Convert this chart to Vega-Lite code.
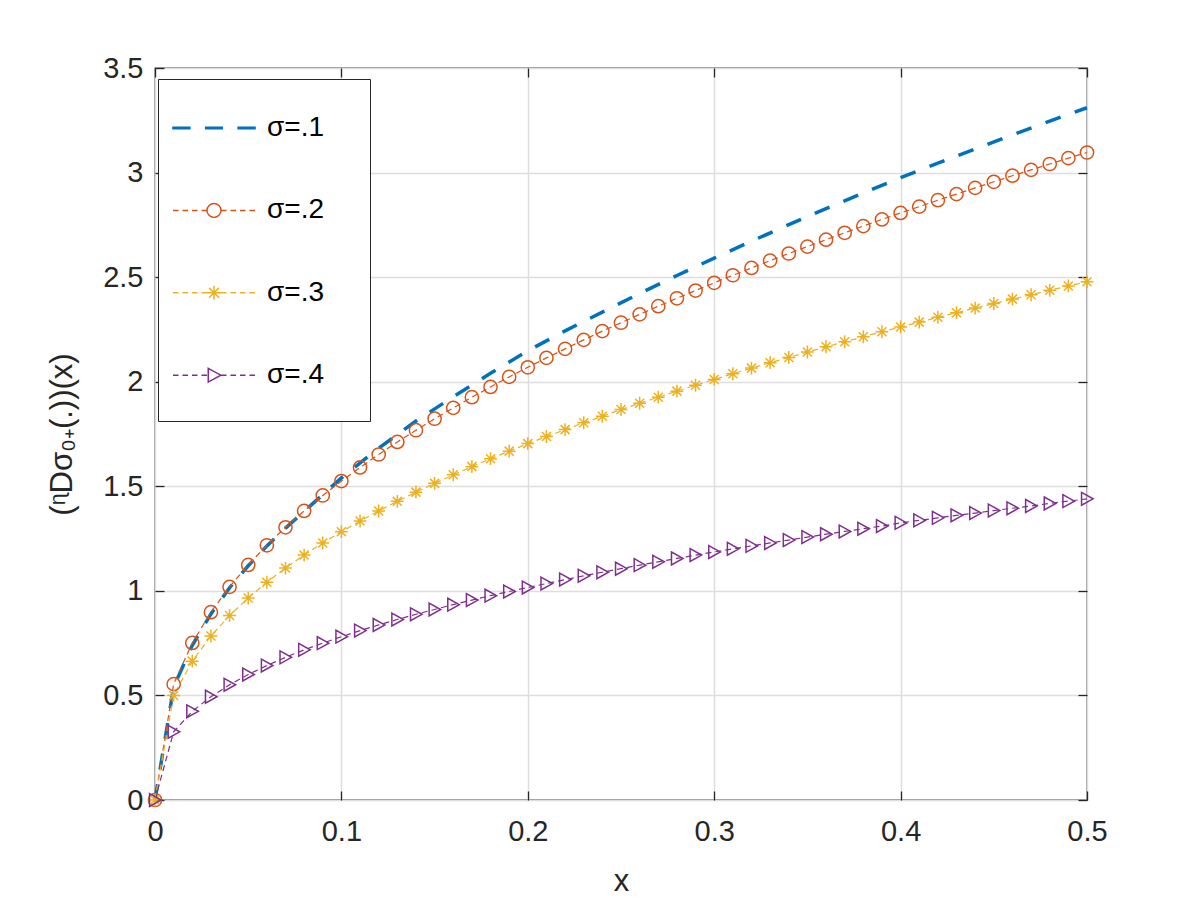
{
  "$schema": "https://vega.github.io/schema/vega-lite/v6.json",
  "width": 932,
  "height": 732,
  "autosize": {"type": "none"},
  "padding": {"left": 155, "top": 68, "right": 113, "bottom": 100},
  "background": "white",
  "config": {
    "font": "Liberation Sans",
    "view": {"stroke": "#262626", "strokeWidth": 1.3},
    "axis": {
      "labelFont": "Liberation Sans",
      "titleFont": "Liberation Sans",
      "labelColor": "#262626",
      "titleColor": "#262626",
      "tickColor": "#262626",
      "domain": false,
      "labelFlush": false,
      "labelFontSize": 29,
      "titleFontSize": 31,
      "titleFontWeight": "normal",
      "tickWidth": 1.3,
      "gridColor": "#dedede",
      "gridWidth": 1.5
    }
  },
  "datasets": {
    "d": [
      {"s": "σ=.1", "x": 0, "y": 0}, {"s": "σ=.1", "x": 0.01, "y": 0.54}, {"s": "σ=.1", "x": 0.02, "y": 0.74}, {"s": "σ=.1", "x": 0.03, "y": 0.89}, {"s": "σ=.1", "x": 0.04, "y": 1.015}, {"s": "σ=.1", "x": 0.05, "y": 1.12}, {"s": "σ=.1", "x": 0.06, "y": 1.215}, {"s": "σ=.1", "x": 0.07, "y": 1.3}, {"s": "σ=.1", "x": 0.08, "y": 1.38}, {"s": "σ=.1", "x": 0.09, "y": 1.46}, {"s": "σ=.1", "x": 0.1, "y": 1.54}, {"s": "σ=.1", "x": 0.12, "y": 1.682}, {"s": "σ=.1", "x": 0.14, "y": 1.812}, {"s": "σ=.1", "x": 0.16, "y": 1.928}, {"s": "σ=.1", "x": 0.18, "y": 2.04}, {"s": "σ=.1", "x": 0.2, "y": 2.148}, {"s": "σ=.1", "x": 0.22, "y": 2.243}, {"s": "σ=.1", "x": 0.24, "y": 2.333}, {"s": "σ=.1", "x": 0.26, "y": 2.422}, {"s": "σ=.1", "x": 0.28, "y": 2.508}, {"s": "σ=.1", "x": 0.3, "y": 2.591}, {"s": "σ=.1", "x": 0.32, "y": 2.672}, {"s": "σ=.1", "x": 0.34, "y": 2.751}, {"s": "σ=.1", "x": 0.36, "y": 2.828}, {"s": "σ=.1", "x": 0.38, "y": 2.902}, {"s": "σ=.1", "x": 0.4, "y": 2.976}, {"s": "σ=.1", "x": 0.42, "y": 3.045}, {"s": "σ=.1", "x": 0.44, "y": 3.113}, {"s": "σ=.1", "x": 0.46, "y": 3.18}, {"s": "σ=.1", "x": 0.48, "y": 3.246}, {"s": "σ=.1", "x": 0.5, "y": 3.31},
      {"s": "σ=.2", "x": 0, "y": 0}, {"s": "σ=.2", "x": 0.01, "y": 0.554}, {"s": "σ=.2", "x": 0.02, "y": 0.751}, {"s": "σ=.2", "x": 0.03, "y": 0.898}, {"s": "σ=.2", "x": 0.04, "y": 1.019}, {"s": "σ=.2", "x": 0.05, "y": 1.124}, {"s": "σ=.2", "x": 0.06, "y": 1.218}, {"s": "σ=.2", "x": 0.07, "y": 1.304}, {"s": "σ=.2", "x": 0.08, "y": 1.382}, {"s": "σ=.2", "x": 0.09, "y": 1.456}, {"s": "σ=.2", "x": 0.1, "y": 1.525}, {"s": "σ=.2", "x": 0.11, "y": 1.59}, {"s": "σ=.2", "x": 0.12, "y": 1.652}, {"s": "σ=.2", "x": 0.13, "y": 1.712}, {"s": "σ=.2", "x": 0.14, "y": 1.768}, {"s": "σ=.2", "x": 0.15, "y": 1.823}, {"s": "σ=.2", "x": 0.16, "y": 1.875}, {"s": "σ=.2", "x": 0.17, "y": 1.926}, {"s": "σ=.2", "x": 0.18, "y": 1.975}, {"s": "σ=.2", "x": 0.19, "y": 2.023}, {"s": "σ=.2", "x": 0.2, "y": 2.069}, {"s": "σ=.2", "x": 0.21, "y": 2.114}, {"s": "σ=.2", "x": 0.22, "y": 2.157}, {"s": "σ=.2", "x": 0.23, "y": 2.2}, {"s": "σ=.2", "x": 0.24, "y": 2.242}, {"s": "σ=.2", "x": 0.25, "y": 2.282}, {"s": "σ=.2", "x": 0.26, "y": 2.322}, {"s": "σ=.2", "x": 0.27, "y": 2.361}, {"s": "σ=.2", "x": 0.28, "y": 2.399}, {"s": "σ=.2", "x": 0.29, "y": 2.436}, {"s": "σ=.2", "x": 0.3, "y": 2.473}, {"s": "σ=.2", "x": 0.31, "y": 2.509}, {"s": "σ=.2", "x": 0.32, "y": 2.544}, {"s": "σ=.2", "x": 0.33, "y": 2.579}, {"s": "σ=.2", "x": 0.34, "y": 2.613}, {"s": "σ=.2", "x": 0.35, "y": 2.646}, {"s": "σ=.2", "x": 0.36, "y": 2.679}, {"s": "σ=.2", "x": 0.37, "y": 2.712}, {"s": "σ=.2", "x": 0.38, "y": 2.744}, {"s": "σ=.2", "x": 0.39, "y": 2.776}, {"s": "σ=.2", "x": 0.4, "y": 2.807}, {"s": "σ=.2", "x": 0.41, "y": 2.837}, {"s": "σ=.2", "x": 0.42, "y": 2.868}, {"s": "σ=.2", "x": 0.43, "y": 2.897}, {"s": "σ=.2", "x": 0.44, "y": 2.927}, {"s": "σ=.2", "x": 0.45, "y": 2.956}, {"s": "σ=.2", "x": 0.46, "y": 2.985}, {"s": "σ=.2", "x": 0.47, "y": 3.013}, {"s": "σ=.2", "x": 0.48, "y": 3.041}, {"s": "σ=.2", "x": 0.49, "y": 3.069}, {"s": "σ=.2", "x": 0.5, "y": 3.096},
      {"s": "σ=.3", "x": 0, "y": 0}, {"s": "σ=.3", "x": 0.01, "y": 0.5}, {"s": "σ=.3", "x": 0.02, "y": 0.664}, {"s": "σ=.3", "x": 0.03, "y": 0.784}, {"s": "σ=.3", "x": 0.04, "y": 0.882}, {"s": "σ=.3", "x": 0.05, "y": 0.966}, {"s": "σ=.3", "x": 0.06, "y": 1.041}, {"s": "σ=.3", "x": 0.07, "y": 1.109}, {"s": "σ=.3", "x": 0.08, "y": 1.171}, {"s": "σ=.3", "x": 0.09, "y": 1.229}, {"s": "σ=.3", "x": 0.1, "y": 1.283}, {"s": "σ=.3", "x": 0.11, "y": 1.334}, {"s": "σ=.3", "x": 0.12, "y": 1.382}, {"s": "σ=.3", "x": 0.13, "y": 1.428}, {"s": "σ=.3", "x": 0.14, "y": 1.472}, {"s": "σ=.3", "x": 0.15, "y": 1.514}, {"s": "σ=.3", "x": 0.16, "y": 1.555}, {"s": "σ=.3", "x": 0.17, "y": 1.594}, {"s": "σ=.3", "x": 0.18, "y": 1.632}, {"s": "σ=.3", "x": 0.19, "y": 1.668}, {"s": "σ=.3", "x": 0.2, "y": 1.704}, {"s": "σ=.3", "x": 0.21, "y": 1.738}, {"s": "σ=.3", "x": 0.22, "y": 1.771}, {"s": "σ=.3", "x": 0.23, "y": 1.804}, {"s": "σ=.3", "x": 0.24, "y": 1.835}, {"s": "σ=.3", "x": 0.25, "y": 1.867}, {"s": "σ=.3", "x": 0.26, "y": 1.897}, {"s": "σ=.3", "x": 0.27, "y": 1.926}, {"s": "σ=.3", "x": 0.28, "y": 1.955}, {"s": "σ=.3", "x": 0.29, "y": 1.983}, {"s": "σ=.3", "x": 0.3, "y": 2.011}, {"s": "σ=.3", "x": 0.31, "y": 2.038}, {"s": "σ=.3", "x": 0.32, "y": 2.065}, {"s": "σ=.3", "x": 0.33, "y": 2.091}, {"s": "σ=.3", "x": 0.34, "y": 2.116}, {"s": "σ=.3", "x": 0.35, "y": 2.142}, {"s": "σ=.3", "x": 0.36, "y": 2.167}, {"s": "σ=.3", "x": 0.37, "y": 2.191}, {"s": "σ=.3", "x": 0.38, "y": 2.215}, {"s": "σ=.3", "x": 0.39, "y": 2.239}, {"s": "σ=.3", "x": 0.4, "y": 2.262}, {"s": "σ=.3", "x": 0.41, "y": 2.285}, {"s": "σ=.3", "x": 0.42, "y": 2.308}, {"s": "σ=.3", "x": 0.43, "y": 2.33}, {"s": "σ=.3", "x": 0.44, "y": 2.352}, {"s": "σ=.3", "x": 0.45, "y": 2.374}, {"s": "σ=.3", "x": 0.46, "y": 2.395}, {"s": "σ=.3", "x": 0.47, "y": 2.416}, {"s": "σ=.3", "x": 0.48, "y": 2.437}, {"s": "σ=.3", "x": 0.49, "y": 2.458}, {"s": "σ=.3", "x": 0.5, "y": 2.478},
      {"s": "σ=.4", "x": 0, "y": 0}, {"s": "σ=.4", "x": 0.01, "y": 0.326}, {"s": "σ=.4", "x": 0.02, "y": 0.424}, {"s": "σ=.4", "x": 0.03, "y": 0.494}, {"s": "σ=.4", "x": 0.04, "y": 0.551}, {"s": "σ=.4", "x": 0.05, "y": 0.6}, {"s": "σ=.4", "x": 0.06, "y": 0.643}, {"s": "σ=.4", "x": 0.07, "y": 0.682}, {"s": "σ=.4", "x": 0.08, "y": 0.718}, {"s": "σ=.4", "x": 0.09, "y": 0.75}, {"s": "σ=.4", "x": 0.1, "y": 0.781}, {"s": "σ=.4", "x": 0.11, "y": 0.81}, {"s": "σ=.4", "x": 0.12, "y": 0.837}, {"s": "σ=.4", "x": 0.13, "y": 0.863}, {"s": "σ=.4", "x": 0.14, "y": 0.888}, {"s": "σ=.4", "x": 0.15, "y": 0.911}, {"s": "σ=.4", "x": 0.16, "y": 0.934}, {"s": "σ=.4", "x": 0.17, "y": 0.956}, {"s": "σ=.4", "x": 0.18, "y": 0.977}, {"s": "σ=.4", "x": 0.19, "y": 0.997}, {"s": "σ=.4", "x": 0.2, "y": 1.016}, {"s": "σ=.4", "x": 0.21, "y": 1.035}, {"s": "σ=.4", "x": 0.22, "y": 1.054}, {"s": "σ=.4", "x": 0.23, "y": 1.072}, {"s": "σ=.4", "x": 0.24, "y": 1.089}, {"s": "σ=.4", "x": 0.25, "y": 1.106}, {"s": "σ=.4", "x": 0.26, "y": 1.123}, {"s": "σ=.4", "x": 0.27, "y": 1.139}, {"s": "σ=.4", "x": 0.28, "y": 1.155}, {"s": "σ=.4", "x": 0.29, "y": 1.171}, {"s": "σ=.4", "x": 0.3, "y": 1.186}, {"s": "σ=.4", "x": 0.31, "y": 1.201}, {"s": "σ=.4", "x": 0.32, "y": 1.215}, {"s": "σ=.4", "x": 0.33, "y": 1.229}, {"s": "σ=.4", "x": 0.34, "y": 1.243}, {"s": "σ=.4", "x": 0.35, "y": 1.257}, {"s": "σ=.4", "x": 0.36, "y": 1.271}, {"s": "σ=.4", "x": 0.37, "y": 1.284}, {"s": "σ=.4", "x": 0.38, "y": 1.297}, {"s": "σ=.4", "x": 0.39, "y": 1.31}, {"s": "σ=.4", "x": 0.4, "y": 1.325}, {"s": "σ=.4", "x": 0.41, "y": 1.337}, {"s": "σ=.4", "x": 0.42, "y": 1.349}, {"s": "σ=.4", "x": 0.43, "y": 1.361}, {"s": "σ=.4", "x": 0.44, "y": 1.372}, {"s": "σ=.4", "x": 0.45, "y": 1.384}, {"s": "σ=.4", "x": 0.46, "y": 1.395}, {"s": "σ=.4", "x": 0.47, "y": 1.406}, {"s": "σ=.4", "x": 0.48, "y": 1.418}, {"s": "σ=.4", "x": 0.49, "y": 1.429}, {"s": "σ=.4", "x": 0.5, "y": 1.44}
    ]
  },
  "layer": [
    {
      "data": {"name": "d"},
      "transform": [{"filter": "datum.s === 'σ=.1'"}],
      "mark": {"type": "line", "color": "#0072BD", "strokeWidth": 3.5, "strokeDash": [16, 15], "strokeCap": "butt"},
      "encoding": {
        "x": {"field": "x", "type": "quantitative", "scale": {"domain": [0, 0.5], "nice": false, "zero": false},
          "axis": {"values": [0, 0.1, 0.2, 0.3, 0.4, 0.5], "format": "~g", "grid": true, "tickSize": -9, "labelPadding": 26, "title": "x", "titlePadding": 20}},
        "y": {"field": "y", "type": "quantitative", "scale": {"domain": [0, 3.5], "nice": false},
          "axis": {"values": [0, 0.5, 1, 1.5, 2, 2.5, 3, 3.5], "format": "~g", "grid": true, "tickSize": -9, "labelPadding": 21, "title": "(ᶯDσ₀₊(.))(x)", "titlePadding": 24}},
        "order": {"field": "x", "type": "quantitative"}
      }
    },
    {
      "data": {"name": "d"},
      "transform": [{"filter": "datum.s === 'σ=.2'"}],
      "mark": {"type": "line", "color": "#D95319", "strokeWidth": 1.2, "strokeDash": [6, 4], "strokeCap": "butt"},
      "encoding": {
        "x": {"field": "x", "type": "quantitative", "scale": {"domain": [0, 0.5], "nice": false, "zero": false}, "axis": null},
        "y": {"field": "y", "type": "quantitative", "scale": {"domain": [0, 3.5], "nice": false}, "axis": null},
        "order": {"field": "x", "type": "quantitative"}
      }
    },
    {
      "data": {"name": "d"},
      "transform": [{"filter": "datum.s === 'σ=.3'"}],
      "mark": {"type": "line", "color": "#EDB120", "strokeWidth": 1.2, "strokeDash": [6, 4], "strokeCap": "butt"},
      "encoding": {
        "x": {"field": "x", "type": "quantitative", "scale": {"domain": [0, 0.5], "nice": false, "zero": false}, "axis": null},
        "y": {"field": "y", "type": "quantitative", "scale": {"domain": [0, 3.5], "nice": false}, "axis": null},
        "order": {"field": "x", "type": "quantitative"}
      }
    },
    {
      "data": {"name": "d"},
      "transform": [{"filter": "datum.s === 'σ=.4'"}],
      "mark": {"type": "line", "color": "#7E2F8E", "strokeWidth": 1.2, "strokeDash": [6, 4], "strokeCap": "butt"},
      "encoding": {
        "x": {"field": "x", "type": "quantitative", "scale": {"domain": [0, 0.5], "nice": false, "zero": false}, "axis": null},
        "y": {"field": "y", "type": "quantitative", "scale": {"domain": [0, 3.5], "nice": false}, "axis": null},
        "order": {"field": "x", "type": "quantitative"}
      }
    },
    {
      "data": {"name": "d"},
      "transform": [{"filter": "datum.s === 'σ=.2'"}],
      "mark": {"type": "point", "shape": "circle", "size": 175, "filled": false, "color": "#D95319", "strokeWidth": 1.5, "opacity": 1},
      "encoding": {
        "x": {"field": "x", "type": "quantitative", "scale": {"domain": [0, 0.5], "nice": false, "zero": false}, "axis": null},
        "y": {"field": "y", "type": "quantitative", "scale": {"domain": [0, 3.5], "nice": false}, "axis": null}
      }
    },
    {
      "data": {"name": "d"},
      "transform": [{"filter": "datum.s === 'σ=.3'"}],
      "mark": {"type": "point", "shape": "M0,-1L0,1M-1,0L1,0M-0.7,-0.7L0.7,0.7M-0.7,0.7L0.7,-0.7", "size": 165, "filled": false, "color": "#EDB120", "strokeWidth": 1.5, "opacity": 1},
      "encoding": {
        "x": {"field": "x", "type": "quantitative", "scale": {"domain": [0, 0.5], "nice": false, "zero": false}, "axis": null},
        "y": {"field": "y", "type": "quantitative", "scale": {"domain": [0, 3.5], "nice": false}, "axis": null}
      }
    },
    {
      "data": {"name": "d"},
      "transform": [{"filter": "datum.s === 'σ=.4'"}],
      "mark": {"type": "point", "shape": "M-0.85,-1L0.95,0L-0.85,1Z", "size": 165, "filled": false, "color": "#7E2F8E", "strokeWidth": 1.5, "opacity": 1},
      "encoding": {
        "x": {"field": "x", "type": "quantitative", "scale": {"domain": [0, 0.5], "nice": false, "zero": false}, "axis": null},
        "y": {"field": "y", "type": "quantitative", "scale": {"domain": [0, 3.5], "nice": false}, "axis": null}
      }
    },
    {
      "data": {"name": "d"},
      "transform": [{"filter": "datum.x === 0"}],
      "mark": {"type": "point", "filled": false, "opacity": 0},
      "encoding": {
        "x": {"field": "x", "type": "quantitative", "scale": {"domain": [0, 0.5], "nice": false, "zero": false},
          "axis": {"orient": "top", "values": [0, 0.1, 0.2, 0.3, 0.4, 0.5], "labels": false, "grid": false, "tickSize": -9, "title": null}},
        "y": {"field": "y", "type": "quantitative", "scale": {"domain": [0, 3.5], "nice": false},
          "axis": {"orient": "right", "values": [0, 0.5, 1, 1.5, 2, 2.5, 3, 3.5], "labels": false, "grid": false, "tickSize": -9, "title": null}},
        "color": {"field": "s", "type": "nominal", "scale": {"domain": ["σ=.1", "σ=.2", "σ=.3", "σ=.4"], "range": ["#0072BD", "#D95319", "#EDB120", "#7E2F8E"]},
          "legend": {"orient": "none", "legendX": 3, "legendY": 11, "title": null, "fillColor": "white", "strokeColor": "#262626", "padding": 12, "symbolSize": 5184, "symbolOffset": 7, "symbolStrokeWidth": 1.5, "labelOffset": 16, "labelFontSize": 28, "labelFont": "Liberation Sans", "labelColor": "black", "rowPadding": 9.4, "symbolOpacity": 1,
            "encode": {"symbols": {"update": {"opacity": {"value": 1}}}}}},
        "shape": {"field": "s", "type": "nominal", "scale": {"domain": ["σ=.1", "σ=.2", "σ=.3", "σ=.4"], "range": [
          "M0,-1L0,-1M0,0.85L0,0.85M3.9,0L3.9,0M-1.14,-0.02L-0.67,-0.02L-0.67,0.02L-1.14,0.02ZM-0.23,-0.02L0.23,-0.02L0.23,0.02L-0.23,0.02ZM0.67,-0.02L1.14,-0.02L1.14,0.02L0.67,0.02Z",
          "M0,-1L0,-1M0,0.85L0,0.85M3.9,0L3.9,0M-1.139,0L-0.986,0M-0.875,0L-0.722,0M-0.611,0L-0.458,0M-0.347,0L-0.194,0M0.194,0L0.347,0M0.458,0L0.611,0M0.722,0L0.875,0M0.986,0L1.139,0M0.194,0A0.194,0.194 0 1,1 -0.194,0A0.194,0.194 0 1,1 0.194,0Z",
          "M0,-1L0,-1M0,0.85L0,0.85M3.9,0L3.9,0M-1.139,0L-0.986,0M-0.875,0L-0.722,0M-0.611,0L-0.458,0M-0.347,0L-0.194,0M0.194,0L0.347,0M0.458,0L0.611,0M0.722,0L0.875,0M0.986,0L1.139,0M0,-0.194L0,0.194M-0.194,0L0.194,0M-0.137,-0.137L0.137,0.137M-0.137,0.137L0.137,-0.137",
          "M0,-1L0,-1M0,0.85L0,0.85M3.9,0L3.9,0M-1.139,0L-0.986,0M-0.875,0L-0.722,0M-0.611,0L-0.458,0M-0.347,0L-0.194,0M0.194,0L0.347,0M0.458,0L0.611,0M0.722,0L0.875,0M0.986,0L1.139,0M-0.16,-0.19L0.19,0L-0.16,0.19Z"
        ]}}
      }
    }
  ],
  "resolve": {"axis": {"x": "independent", "y": "independent"}}
}
